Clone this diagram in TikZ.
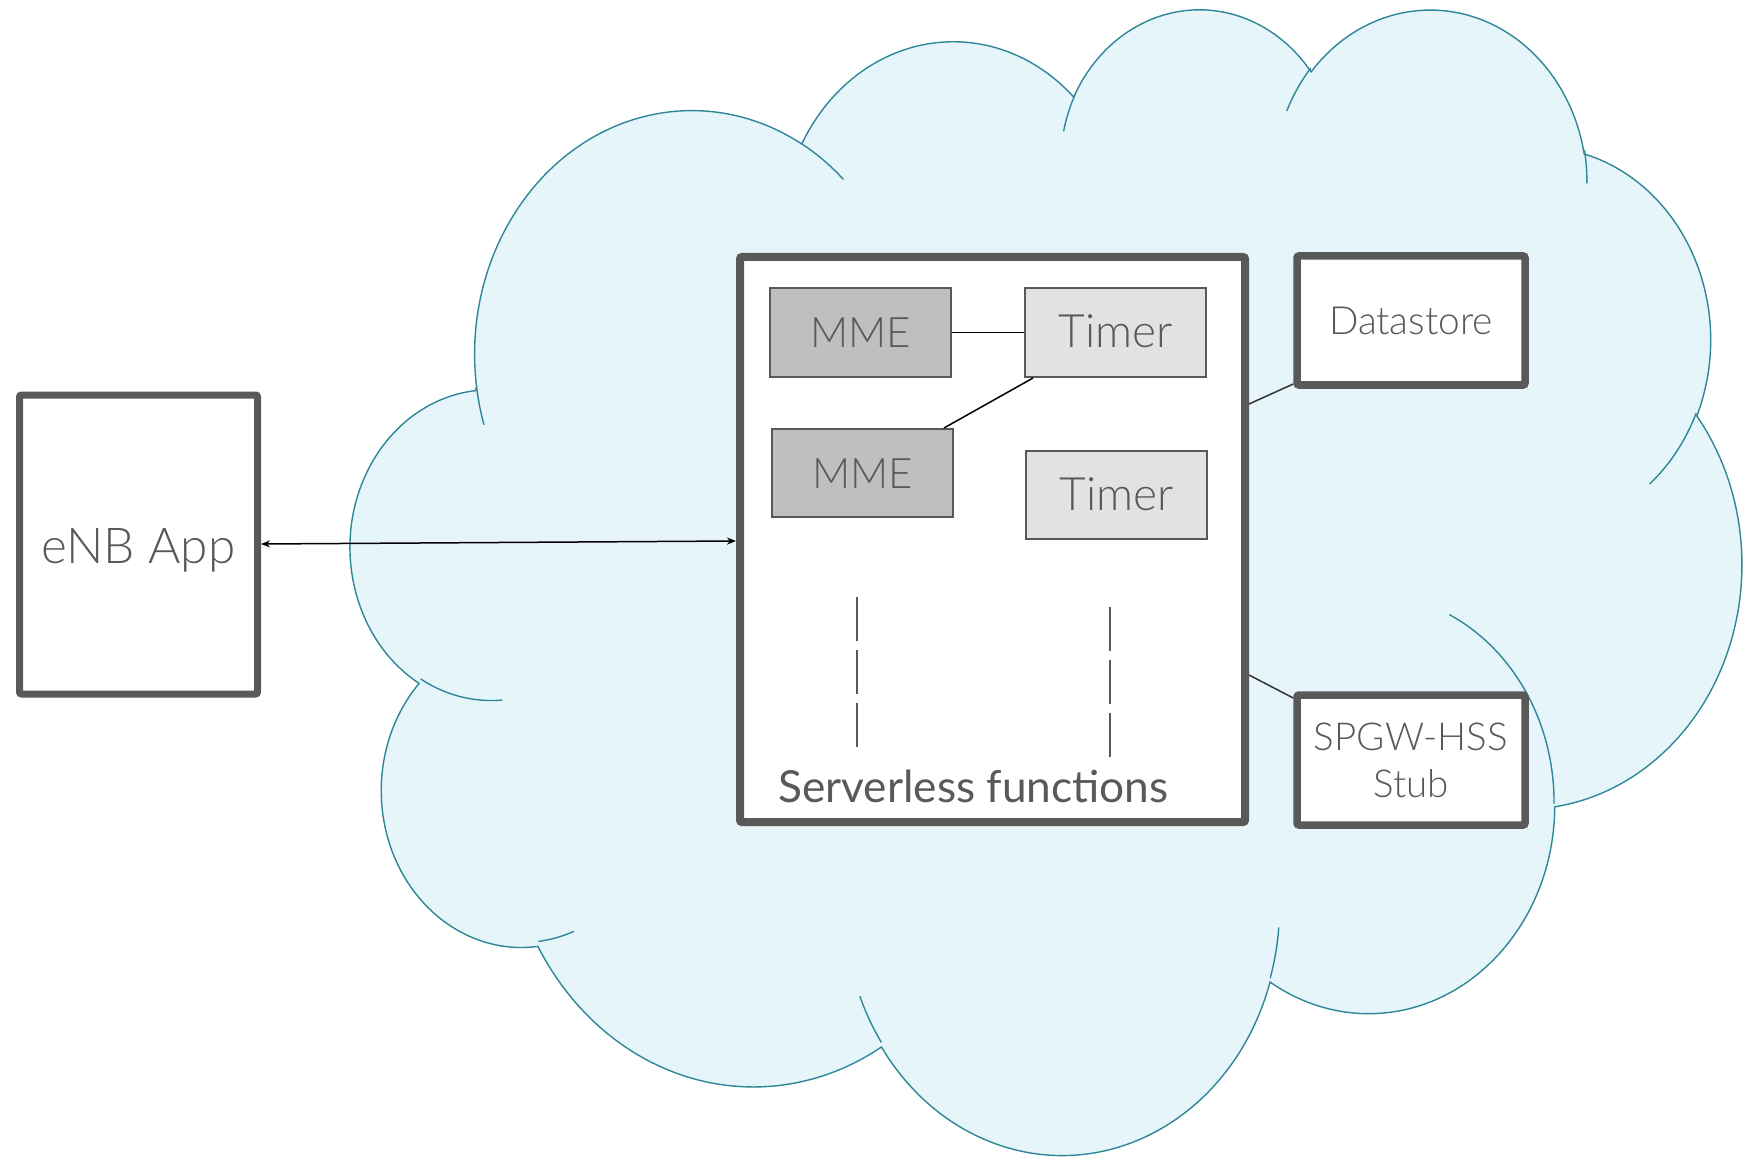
\documentclass[tikz,border=0pt]{standalone}
\usepackage{fontspec}
\setmainfont{Lato}
% thin face for the box labels, heavier face for the group title
\IfFontExistsTF{Lato Light}
  {\newfontfamily\labelfont{Lato Light}\newcommand\titleweight{\mdseries}}
  {\newfontfamily\labelfont{Lato}\newcommand\titleweight{\bfseries}}
\usetikzlibrary{arrows.meta}

\definecolor{cloudfill}{HTML}{E6F5FA}
\definecolor{cloudline}{HTML}{2E8798}
\definecolor{boxgray}{HTML}{595959}
\definecolor{mmefill}{HTML}{BFBFBF}
\definecolor{timerfill}{HTML}{E2E2E2}

% Elliptic arc given by a visual start angle and a visual sweep:
% convert both to the parametric angles that TikZ's arc expects.
\newcommand\cloudangles[4]{%
  \pgfmathsetmacro\cldS{atan2((#1)*sin(#3),(#2)*cos(#3))}%
  \pgfmathsetmacro\cldE{atan2((#1)*sin((#3)+(#4)),(#2)*cos((#3)+(#4)))}%
  \pgfmathsetmacro\cldE{\cldE+360*round((\cldS+(#4)-\cldE)/360)}%
  \global\let\cldS\cldS
  \global\let\cldE\cldE
}

\tikzset{
  cloud arc/.style n args={4}{
    /utils/exec={\cloudangles{#1}{#2}{#3}{#4}},
    insert path={arc[start angle=\cldS, end angle=\cldE, x radius=#1, y radius=#2]}
  },
  cloudedge/.style={draw=cloudline, line width=1.4pt},
  thickbox/.style={draw=boxgray, fill=white, line width=7.5pt, rounded corners=2pt,
    inner sep=0pt, text=boxgray},
  funcbox/.style={draw=boxgray, line width=2pt, inner sep=0pt, text=boxgray,
    minimum width=181pt, minimum height=89pt, text height=30pt, text depth=0pt},
  mmebox/.style={funcbox, fill=mmefill, font=\labelfont\fontsize{42}{46}\selectfont},
  timerbox/.style={funcbox, fill=timerfill, font=\labelfont\fontsize{46}{50}\selectfont},
  link/.style={draw=black, line width=1.5pt},
  sidelink/.style={draw=black!80, line width=1.5pt},
  ellipsis/.style={draw=boxgray, line width=2pt, dash pattern=on 44pt off 9pt},
}

\begin{document}
\begin{tikzpicture}[x=1pt, y=-1pt]
\useasboundingbox (0,0) rectangle (1757,1158);
\fill[white] (0,0) rectangle (1757,1158);

% ---- cloud (outer outline and inner bump strokes) ----
\begin{scope}[shift={(351.1,6.1)}, x=0.32181pt, y=-0.26511pt]
  \filldraw[fill=cloudfill, cloudedge, line join=miter] (390,1437)
    [cloud arc={675.3}{919.0}{-190.487483}{123.780533}]
    [cloud arc={533.3}{726.7}{-144.102383}{89.945233}]
    [cloud arc={436.5}{594.5}{-145.807917}{99.723017}]
    [cloud arc={485.7}{659.5}{-130.986067}{117.241733}]
    [cloud arc={533.3}{727.3}{-78.708883}{109.026917}]
    [cloud arc={677.5}{922.0}{-46.26725}{130.269}]
    [cloud arc={578.5}{786.7}{0.625017}{114.033333}]
    [cloud arc={675.2}{921.5}{22.4516}{115.17255}]
    [cloud arc={772.0}{1054.3}{66.242633}{75.711017}]
    [cloud arc={436.0}{591.8}{-274.942083}{146.735567}]
    [cloud arc={434.5}{594.5}{-246.8285}{152.51885}]
    -- cycle;
  \draw[cloudedge] (469.3,2617.7)  [cloud arc={434.5}{594.5}{86.742}{26.4295}];
  \draw[cloudedge] (692.8,3489.9)  [cloud arc={436.0}{591.8}{73.6105}{11.4475}];
  \draw[cloudedge] (1647.8,3909.0) [cloud arc={675.2}{921.5}{137.6242}{14.0811}];
  \draw[cloudedge] (2882.7,3475.1) [cloud arc={675.2}{921.5}{6.4533}{15.9984}];
  \draw[cloudedge] (3412.9,2295.4) [cloud arc={578.5}{786.7}{-70.2924}{70.9174}];
  \draw[cloudedge] (4179.8,1535.4) [cloud arc={533.3}{727.3}{30.3180}{27.7515}];
  \draw[cloudedge] (3832.4,542.6)  [cloud arc={485.7}{659.5}{-13.7443}{14.8589}];
  \draw[cloudedge] (2907.8,395.2)  [cloud arc={485.7}{659.5}{-149.1815}{18.1954}];
  \draw[cloudedge] (2214.1,472.0)  [cloud arc={436.5}{594.5}{-163.4943}{17.6864}];
  \draw[cloudedge] (1400.0,519.2)  [cloud arc={675.3}{919.0}{-66.7070}{12.3194}];
  \draw[cloudedge] (412.7,1578.9)  [cloud arc={675.3}{919.0}{157.6544}{11.8582}];
\end{scope}

% ---- boxes ----
\node[thickbox, line width=7pt, minimum width=238pt, minimum height=299pt,
      text height=37pt, text depth=0pt,
      font=\labelfont\fontsize{49.5}{54}\selectfont] (enb) at (138.5,544.5) {eNB App};

\node[thickbox, line width=8pt, minimum width=505pt, minimum height=565pt] (sf) at (992.5,539.5) {};

\node[mmebox]   (mmeA)   at (860.5,332.5) {MME};
\node[timerbox] (timerA) at (1115.5,332.5) {Timer};
\node[mmebox, minimum height=88pt]   (mmeB)   at (862.5,473) {MME};
\node[timerbox, minimum height=88pt] (timerB) at (1116.5,495) {Timer};

\node[text=boxgray, anchor=base, font=\fontsize{44.2}{48}\selectfont\titleweight] (sflabel)
  at (973.5,802) {Serverless functions};

\node[thickbox, minimum width=228pt, minimum height=129pt, text height=28.4pt, text depth=0pt,
      font=\labelfont\fontsize{38.8}{42}\selectfont] (ds) at (1411,320.5) {Datastore};
\node[thickbox, minimum width=228pt, minimum height=130pt, align=center,
      font=\labelfont\fontsize{38.5}{47}\selectfont] (sp) at (1411,760) {SPGW-HSS\\Stub};

% ---- more instances, elided ----
\draw[ellipsis] (857,597) -- (857,747);
\draw[ellipsis] (1110,607) -- (1110,758);

% ---- connectors ----
\draw[link] (mmeA.east) -- (timerA.west);
\draw[link] ([xshift=9pt]timerA.south west) -- ([xshift=-10pt]mmeB.north east);
\draw[sidelink] (sf.east |- 0,404) -- (ds.west |- 0,384);
\draw[sidelink] (sf.east |- 0,675) -- (sp.west |- 0,698);
\draw[link, {Stealth[length=9pt,width=7pt]}-{Stealth[length=9pt,width=7pt]}]
  (enb.east |- 0,544) -- (sf.west |- 0,541);
\end{tikzpicture}
\end{document}
